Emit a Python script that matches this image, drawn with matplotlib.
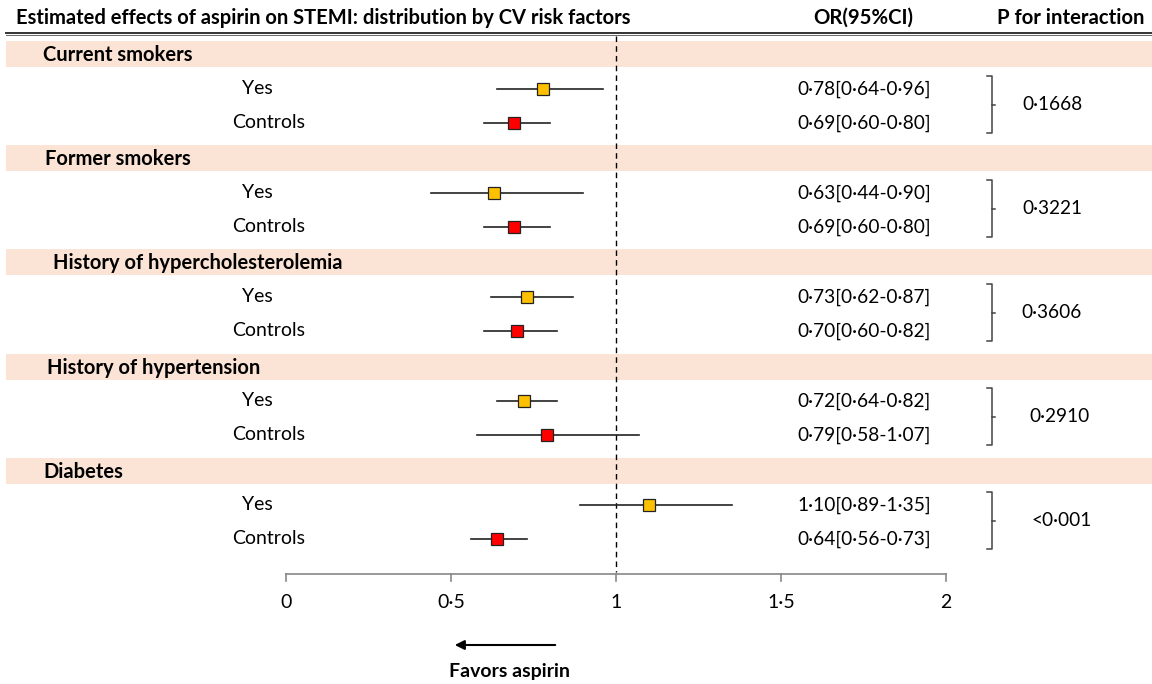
import matplotlib.pyplot as plt
import numpy as np

plt.rcParams['font.family'] = ['Lato', 'DejaVu Sans']

groups = ['Current smokers', 'Former smokers', 'History of hypercholesterolemia',
          'History of hypertension', 'Diabetes']
or_yes = [0.78, 0.63, 0.73, 0.72, 1.10]
lo_yes = [0.64, 0.44, 0.62, 0.64, 0.89]
hi_yes = [0.96, 0.90, 0.87, 0.82, 1.35]
or_ctrl = [0.69, 0.69, 0.70, 0.79, 0.64]
lo_ctrl = [0.60, 0.60, 0.60, 0.58, 0.56]
hi_ctrl = [0.80, 0.80, 0.82, 1.07, 0.73]
p_values = ['0·1668', '0·3221', '0·3606', '0·2910', '<0·001']
xticks = [0, 0.5, 1, 1.5, 2]

# layout (pixels): group label left edges, p-value centres
label_pos = [43, 45, 53, 47, 43]
p_pos = [1052, 1052, 1052, 1059, 1062]


def fmt(v):
    return f'{v:.2f}'.replace('.', '·')


def tick_fmt(v):
    return f'{v:g}'.replace('.', '·')


# pixel layout: x=0 at 286px, 330px per unit
X0, SCALE = 286, 330


def px(x):
    return (x - X0) / SCALE


fig = plt.figure(figsize=(11.52, 6.84), dpi=100)
ax = fig.add_axes([0, 0, 1, 1])
ax.set_xlim(px(0), px(1152))
ax.set_ylim(684, 0)
ax.axis('off')

band_color = '#FBE4D5'
yes_color = '#FFC000'
ctrl_color = '#FF0000'

# header
ax.text(px(16), 18, 'Estimated effects of aspirin on STEMI: distribution by CV risk factors',
        fontsize=14.5, fontweight='bold', va='center', ha='left')
ax.text(px(863), 18, 'OR(95%CI)', fontsize=14.7, fontweight='bold', va='center', ha='center')
ax.text(px(1071), 18, 'P for interaction', fontsize=14.6, fontweight='bold', va='center', ha='center')
ax.plot([px(6), px(1152)], [32.5, 32.5], color='#333333', lw=1.4)
ax.plot([px(6), px(1152)], [35.3, 35.3], color='#666666', lw=0.7)

for i, g in enumerate(groups):
    yb = 54 + 104.2 * i
    y_yes, y_ctrl = 89 + 104 * i, 123 + 104 * i
    ax.axhspan(yb - 13, yb + 13, xmin=6 / 1152, xmax=1, color=band_color, lw=0, zorder=0)
    ax.text(px(label_pos[i]), yb + 1, g, fontsize=14.5, fontweight='bold', va='center', ha='left')

    ax.text(px(242), y_yes, 'Yes', fontsize=14, va='center', ha='left')
    ax.text(px(232), y_ctrl, 'Controls', fontsize=14, va='center', ha='left')

    ax.plot([lo_yes[i], hi_yes[i]], [y_yes, y_yes], color='#222222', lw=1.2, zorder=2)
    ax.plot([lo_ctrl[i], hi_ctrl[i]], [y_ctrl, y_ctrl], color='#222222', lw=1.2, zorder=2)
    ax.plot(or_yes[i], y_yes, 's', ms=8, mfc=yes_color, mec='#222222', mew=0.9, zorder=3)
    ax.plot(or_ctrl[i], y_ctrl, 's', ms=8, mfc=ctrl_color, mec='#222222', mew=0.9, zorder=3)

    ax.text(px(797), y_yes, f'{fmt(or_yes[i])}[{fmt(lo_yes[i])}-{fmt(hi_yes[i])}]',
            fontsize=13.8, va='center', ha='left')
    ax.text(px(797), y_ctrl, f'{fmt(or_ctrl[i])}[{fmt(lo_ctrl[i])}-{fmt(hi_ctrl[i])}]',
            fontsize=13.8, va='center', ha='left')

    # bracket
    bx = px(992)
    ax.plot([px(987), bx, bx, px(987)], [y_yes - 13, y_yes - 13, y_ctrl + 10, y_ctrl + 10],
            color='#444444', lw=1.1)
    ym = (y_yes + y_ctrl) / 2 - 1
    ax.plot([bx, px(995)], [ym, ym], color='#444444', lw=1.1)
    ax.text(px(p_pos[i]), ym, p_values[i], fontsize=13.7, va='center', ha='center')

# reference line
ax.plot([1, 1], [36, 572], color='black', lw=1, ls=(0, (4, 3)), zorder=1)

# x axis
ax.plot([xticks[0], xticks[-1]], [574, 574], color='#888888', lw=1.2)
for t in xticks:
    ax.plot([t, t], [574, 581], color='#888888', lw=1.2)
    ax.text(t, 603, tick_fmt(t), fontsize=14, va='center', ha='center')

ax.annotate('', xy=(px(452), 645), xytext=(px(558), 645),
            arrowprops=dict(arrowstyle='-|>', color='black', lw=1.5, mutation_scale=14))
ax.text(px(509), 672, 'Favors aspirin', fontsize=14, fontweight='bold', va='center', ha='center')

fig.savefig('out.png', dpi=100)
